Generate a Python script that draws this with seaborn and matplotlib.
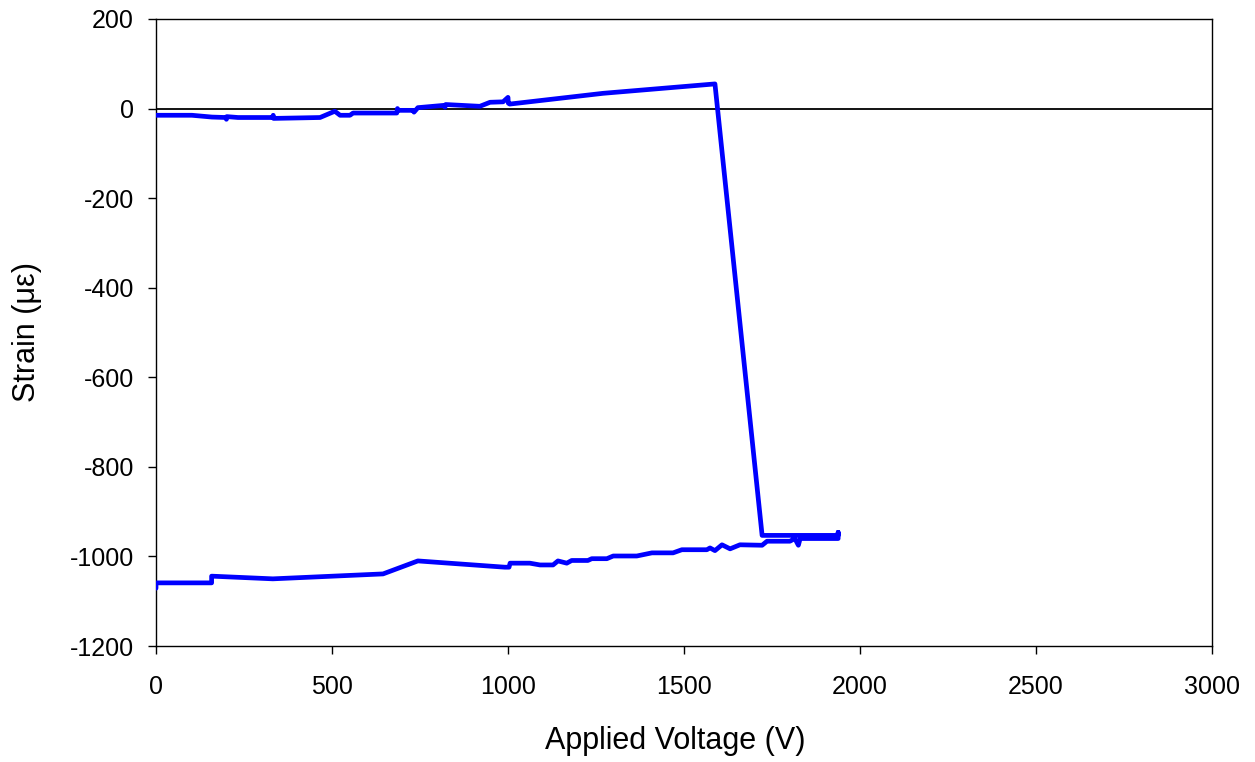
import matplotlib
matplotlib.use("Agg")
import matplotlib.pyplot as plt
import seaborn as sns
import pandas as pd

# Rising-voltage branch: strain stays near zero, then switches at ~1600-1720 V
voltage_up = [0, 102, 159, 199, 200, 201, 233, 332, 333, 334, 466, 508, 523, 551,
              560, 602, 684, 686, 688, 731, 733, 744, 816, 821, 823, 920, 949, 986,
              1000, 1001, 1005, 1270, 1588, 1722, 1938, 1938]
strain_up = [-15, -15, -19, -20, -24, -18, -20, -20, -15, -22, -20, -6, -15, -15,
             -10, -10, -10, 0, -4, -4, -8, 2, 7, 3, 9, 5, 14, 15,
             25, 12, 10, 34, 55, -953, -953, -946]

# Falling-voltage branch back to zero
voltage_down = [1938, 1830, 1825, 1815, 1801, 1736, 1722, 1659, 1631, 1608, 1588,
                1574, 1565, 1494, 1469, 1409, 1366, 1299, 1281, 1238, 1227, 1181,
                1167, 1142, 1128, 1091, 1062, 1006, 1003, 991, 744, 645, 332, 158,
                158, 0, 0]
strain_down = [-960, -960, -975, -960, -966, -966, -975, -974, -983, -974, -987,
               -981, -985, -985, -992, -992, -999, -999, -1005, -1005, -1009, -1009,
               -1015, -1010, -1019, -1019, -1015, -1015, -1024, -1024, -1010, -1039,
               -1050, -1044, -1059, -1059, -1071]

x_ticks = [0, 500, 1000, 1500, 2000, 2500, 3000]
y_ticks = [200, 0, -200, -400, -600, -800, -1000, -1200]

df = pd.DataFrame({
    "Applied Voltage (V)": voltage_up + voltage_down,
    "Strain": strain_up + strain_down,
})

sns.set_theme(style="white")
plt.rcParams["font.family"] = ["Liberation Sans", "DejaVu Sans"]

fig = plt.figure(figsize=(12.55, 7.62), dpi=100)
ax = fig.add_axes([0.1243, 0.1522, 0.9657 - 0.1243, 0.9751 - 0.1522])

ax.axhline(0, color="black", linewidth=1.3, zorder=1)
sns.lineplot(data=df, x="Applied Voltage (V)", y="Strain", sort=False,
             estimator=None, color="#0000FF", linewidth=3.4, ax=ax, zorder=3,
             solid_capstyle="round", solid_joinstyle="round")

ax.set_xlim(0, 3000)
ax.set_ylim(-1200, 200)
ax.set_xticks(x_ticks)
ax.set_yticks(y_ticks)
ax.set_xticklabels([str(v) for v in x_ticks])
ax.set_yticklabels([str(v) for v in y_ticks])

for side in ["left", "bottom", "top", "right"]:
    ax.spines[side].set_visible(True)
    ax.spines[side].set_color("black")
    ax.spines[side].set_linewidth(1.0)

ax.tick_params(axis="both", direction="out", length=6, width=1.0, color="black",
               labelsize=18, labelcolor="black", bottom=True, left=True)
ax.tick_params(axis="y", pad=10)
ax.tick_params(axis="x", pad=15)

ax.set_xlabel("Applied Voltage (V)", fontsize=22, color="black")
ax.set_ylabel("Strain (\u03bc\u03b5)", fontsize=22, color="black")
ax.xaxis.set_label_coords(0.492, -0.128)
ax.yaxis.set_label_coords(-0.108, 0.5)
ax.grid(False)

fig.savefig("out.png", dpi=100, facecolor="white")
